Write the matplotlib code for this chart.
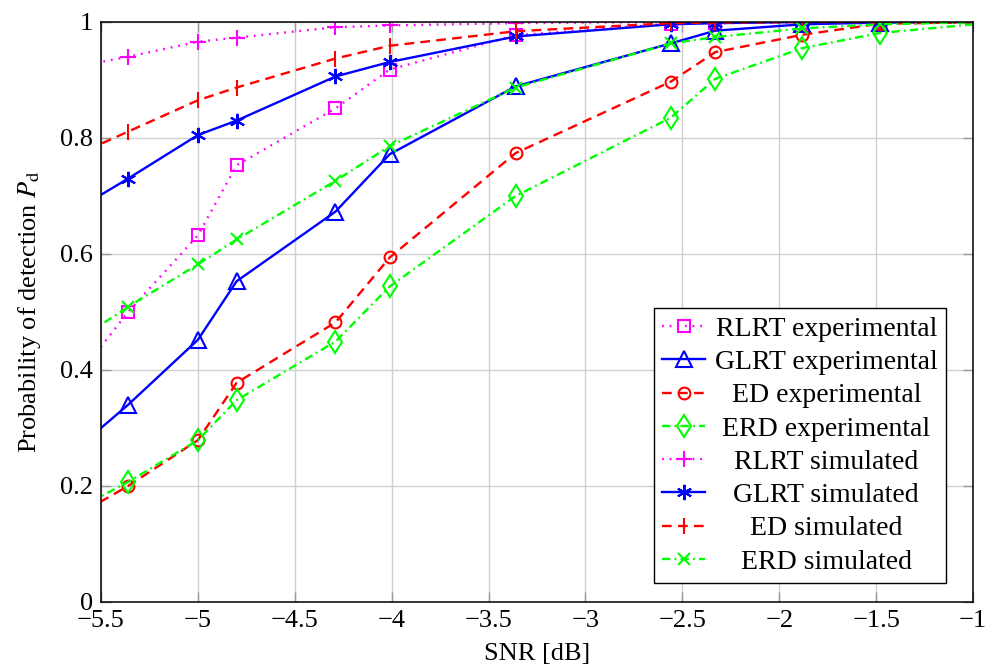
import matplotlib
matplotlib.use("Agg")
import matplotlib.pyplot as plt
from matplotlib.ticker import FuncFormatter

plt.rcParams["font.family"] = ["Liberation Serif", "DejaVu Serif"]
plt.rcParams["mathtext.fontset"] = "stix"
plt.rcParams["lines.scale_dashes"] = False

# SNR points (dB); the outer two lie just outside the plotted range
snr = [-5.72, -5.36, -5.0, -4.8, -4.29, -4.01, -3.36, -2.56, -2.33, -1.88, -1.48, -0.9]

rlrt_exp = [0.346, 0.50, 0.632, 0.753, 0.851, 0.918, 0.977, 0.997, 0.998, 0.999, 1.0, 1.0]
glrt_exp = [0.237, 0.340, 0.452, 0.553, 0.673, 0.772, 0.889, 0.963, 0.985, 0.996, 0.999, 1.0]
ed_exp = [0.131, 0.200, 0.279, 0.378, 0.482, 0.594, 0.774, 0.897, 0.948, 0.978, 0.997, 1.0]
erd_exp = [0.143, 0.207, 0.279, 0.348, 0.449, 0.544, 0.700, 0.835, 0.902, 0.955, 0.981, 0.999]
rlrt_sim = [0.917, 0.940, 0.966, 0.973, 0.991, 0.994, 0.998, 1.0, 1.0, 1.0, 1.0, 1.0]
glrt_sim = [0.658, 0.730, 0.805, 0.830, 0.906, 0.931, 0.975, 0.996, 0.998, 1.0, 1.0, 1.0]
ed_sim = [0.757, 0.811, 0.865, 0.887, 0.937, 0.959, 0.984, 0.998, 0.999, 1.0, 1.0, 1.0]
erd_sim = [0.429, 0.509, 0.582, 0.625, 0.726, 0.786, 0.887, 0.963, 0.974, 0.989, 0.996, 1.0]

dotted = (0, (1.3, 4.2))
dashed = (0, (7.0, 4.5))
dashdot = (0, (6.0, 3.0, 1.3, 3.0))

series = [
    ("RLRT experimental", rlrt_exp, "#ff00ff", dotted, "s", 8.5),
    ("GLRT experimental", glrt_exp, "#0000ff", "-", "^", 11.5),
    ("ED experimental", ed_exp, "#ff0000", dashed, "o", 8.5),
    ("ERD experimental", erd_exp, "#00ff00", dashdot, "d", 11.5),
    ("RLRT simulated", rlrt_sim, "#ff00ff", dotted, "+", 11),
    ("GLRT simulated", glrt_sim, "#0000ff", "-", (6, 2, 0), 11),
    ("ED simulated", ed_sim, "#ff0000", dashed, "|", 11),
    ("ERD simulated", erd_sim, "#00ff00", dashdot, "x", 8.5),
]

fs = 19

fig = plt.figure(figsize=(9.94, 6.72), dpi=100)
ax = fig.add_axes([0.1016, 0.1042, 0.8773, 0.8631])

for label, vals, col, ls, mk, ms in series:
    ax.plot(snr, vals, color=col, linestyle=ls, linewidth=1.7,
            marker=mk, markersize=ms, markerfacecolor="none",
            markeredgecolor=col, markeredgewidth=1.5, label=label)

ax.set_xlim(-5.5, -1)
ax.set_ylim(0, 1)
ax.set_xticks([-5.5, -5, -4.5, -4, -3.5, -3, -2.5, -2, -1.5, -1])
ax.set_yticks([0, 0.2, 0.4, 0.6, 0.8, 1])
ax.xaxis.set_major_formatter(FuncFormatter(lambda v, p: f"{v:g}".replace("-", "\u2212")))
ax.yaxis.set_major_formatter(FuncFormatter(lambda v, p: f"{v:g}"))
ax.tick_params(direction="in", length=7, width=1, color="#999999",
               labelsize=fs, top=True, right=True, pad=6)
ax.grid(True, color="#d0d0d0", linewidth=1)
ax.set_axisbelow(True)
for s in ax.spines.values():
    s.set_linewidth(1.1)

ax.set_xlabel("SNR [dB]", fontsize=fs, labelpad=8)
ax.set_ylabel(r"Probability of detection $P_\mathrm{d}$", fontsize=fs, labelpad=12)

leg = ax.legend(loc="lower right", bbox_to_anchor=(0.969, 0.033), borderaxespad=0,
                fontsize=20, fancybox=False, framealpha=1, edgecolor="black",
                handlelength=1.55, handletextpad=0.35, labelspacing=0.28,
                borderpad=0.3)
leg.get_frame().set_linewidth(1.0)

# centre the entry texts within the legend column
fig.canvas.draw()
renderer = fig.canvas.get_renderer()
texts = leg.get_texts()
widths = [t.get_window_extent(renderer).width for t in texts]
wmax = max(widths)
for t, w in zip(texts, widths):
    t.set_x((wmax - w) / 2)

fig.savefig("out.png", dpi=100)
